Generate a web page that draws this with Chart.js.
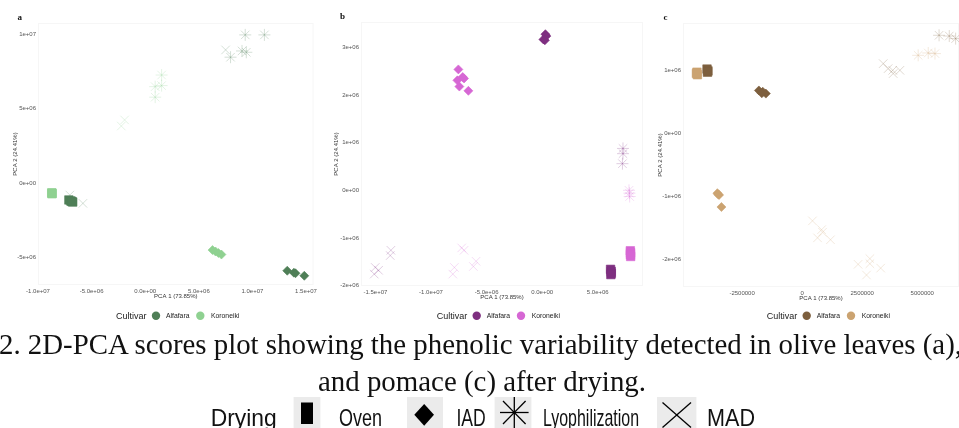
<!DOCTYPE html>
<html>
<head>
<meta charset="utf-8">
<script src="https://cdn.jsdelivr.net/npm/chart.js@4.4.1/dist/chart.umd.min.js"></script>
<style>
  html, body { margin: 0; padding: 0; background: #fff; }
  body { width: 959px; height: 428px; overflow: hidden; position: relative; }
  canvas { position: absolute; top: 0; }
  #overlay { position: absolute; left: 0; top: 0; pointer-events: none; }
</style>
</head>
<body>
<canvas id="pa" width="320" height="301" style="left:0px"></canvas>
<canvas id="pb" width="324" height="302" style="left:322px"></canvas>
<canvas id="pc" width="314" height="303" style="left:645px"></canvas>

<svg id="overlay" width="959" height="428" xmlns="http://www.w3.org/2000/svg">
  <g font-family="'Liberation Serif', serif" font-weight="bold" font-size="9" fill="#111">
    <text x="17.5" y="19.5">a</text>
    <text x="340" y="19">b</text>
    <text x="663.5" y="19.5">c</text>
  </g>
  <g id="cultivarLegends" font-family="'Liberation Sans', Arial, sans-serif" fill="#222"></g>
  <g font-family="'Liberation Serif', 'DejaVu Serif', serif" font-size="29" fill="#111">
    <text x="-1" y="354" textLength="963" lengthAdjust="spacingAndGlyphs">2. 2D-PCA scores plot showing the phenolic variability detected in olive leaves (a),</text>
    <text x="318" y="391" textLength="328" lengthAdjust="spacingAndGlyphs">and pomace (c) after drying.</text>
  </g>
  <g id="dryingLegend" font-family="'Liberation Sans', Arial, sans-serif" font-size="24" fill="#111">
    <text x="210.7" y="425.5" textLength="66" lengthAdjust="spacingAndGlyphs">Drying</text>
    <rect x="293.6" y="397" width="26.8" height="31" fill="#ebebeb"/>
    <rect x="301" y="402.5" width="12" height="21.5" fill="#000"/>
    <text x="339" y="425.5" textLength="43" lengthAdjust="spacingAndGlyphs">Oven</text>
    <rect x="407" y="397" width="36" height="31" fill="#ebebeb"/>
    <polygon points="414.3,414.8 424.2,404 434,414.8 424.2,425.7" fill="#000"/>
    <text x="456.4" y="425.5" textLength="29.3" lengthAdjust="spacingAndGlyphs">IAD</text>
    <rect x="494.6" y="397" width="36.8" height="31" fill="#ebebeb"/>
    <g stroke="#000" stroke-width="1.3">
      <line x1="514.3" y1="397" x2="514.3" y2="428"/>
      <line x1="500" y1="412.5" x2="528.6" y2="412.5"/>
      <line x1="503" y1="401" x2="525.6" y2="424"/>
      <line x1="503" y1="424" x2="525.6" y2="401"/>
    </g>
    <text x="543" y="425.5" textLength="96" lengthAdjust="spacingAndGlyphs">Lyophilization</text>
    <rect x="657" y="397" width="39.4" height="31" fill="#ebebeb"/>
    <g stroke="#000" stroke-width="1.3">
      <line x1="662.5" y1="402.5" x2="691" y2="427.5"/>
      <line x1="662.5" y1="427.5" x2="691" y2="402.5"/>
    </g>
    <text x="707" y="425.5" textLength="48" lengthAdjust="spacingAndGlyphs">MAD</text>
  </g>
</svg>

<script>
// ---------- shared labels ----------
const cultivars = ['Alfafara', 'Koroneiki'];
const dryingMethods = ['Oven', 'IAD', 'Lyophilization', 'MAD'];
const axisTitleX = 'PCA 1 (73.85%)';
const axisTitleY = 'PCA 2 (24.41%)';

// ---------- panel a: olive leaves ----------
const aTicksX = [-1e7, -5e6, 0, 5e6, 1e7, 1.5e7];
const aLabelsX = ['-1.0e+07', '-5.0e+06', '0.0e+00', '5.0e+06', '1.0e+07', '1.5e+07'];
const aTicksY = [-5e6, 0, 5e6, 1e7];
const aLabelsY = ['-5e+06', '0e+00', '5e+06', '1e+07'];
const aAlfafaraOven = [[-7.12e6, -1.14e6], [-6.94e6, -1.21e6], [-6.85e6, -1.24e6], [-6.76e6, -1.28e6]];
const aKoroneikiOven = [[-8.72e6, -0.66e6], [-8.68e6, -0.70e6], [-8.70e6, -0.72e6]];
const aAlfafaraIAD = [[1.325e7, -5.90e6], [1.387e7, -6.03e6], [1.402e7, -6.07e6], [1.484e7, -6.24e6]];
const aKoroneikiIAD = [[6.28e6, -4.51e6], [6.56e6, -4.61e6], [6.83e6, -4.71e6], [7.11e6, -4.81e6]];
const aAlfafaraLyo = [[1.112e7, 9.96e6], [9.33e6, 9.96e6], [9.03e6, 8.88e6], [9.43e6, 8.79e6], [7.96e6, 8.46e6]];
const aKoroneikiLyo = [[1.53e6, 7.26e6], [0.93e6, 6.48e6], [1.53e6, 6.55e6], [0.93e6, 5.77e6]];
const aAlfafaraMAD = [[7.5e6, 8.95e6], [-7.03e6, -0.81e6], [-5.81e6, -1.37e6]];
const aKoroneikiMAD = [[-1.92e6, 4.24e6], [-2.23e6, 3.83e6]];

// ---------- panel b ----------
const bTicksX = [-1.5e7, -1e7, -5e6, 0, 5e6];
const bLabelsX = ['-1.5e+07', '-1.0e+07', '-5.0e+06', '0.0e+00', '5.0e+06'];
const bTicksY = [-2e6, -1e6, 0, 1e6, 2e6, 3e6];
const bLabelsY = ['-2e+06', '-1e+06', '0e+00', '1e+06', '2e+06', '3e+06'];
const bAlfafaraOven = [[6.15e6, -1.66e6], [6.20e6, -1.70e6], [6.22e6, -1.74e6], [6.18e6, -1.77e6]];
const bKoroneikiOven = [[7.93e6, -1.27e6], [7.95e6, -1.31e6], [7.94e6, -1.35e6], [7.96e6, -1.39e6]];
const bAlfafaraIAD = [[2.9e5, 3.28e6], [3.8e5, 3.24e6], [1.1e5, 3.17e6], [2.4e5, 3.15e6]];
const bKoroneikiIAD = [[-7.54e6, 2.54e6], [-7.15e6, 2.38e6], [-7.63e6, 2.31e6], [-7.45e6, 2.18e6], [-6.64e6, 2.09e6], [-7.03e6, 2.35e6]];
const bAlfafaraLyo = [[7.27e6, 8.8e5], [7.27e6, 7.7e5], [7.22e6, 5.6e5]];
const bKoroneikiLyo = [[7.81e6, 0], [7.87e6, -1.3e5], [7.85e6, -6e4]];
const bAlfafaraMAD = [[-1.502e7, -1.62e6], [-1.511e7, -1.76e6], [-1.472e7, -1.68e6], [-1.361e7, -1.26e6], [-1.367e7, -1.37e6]];
const bKoroneikiMAD = [[-7.24e6, -1.21e6], [-7.03e6, -1.26e6], [-7.90e6, -1.62e6], [-8.04e6, -1.76e6], [-5.95e6, -1.49e6], [-6.19e6, -1.60e6]];

// ---------- panel c: pomace ----------
const cTicksX = [-2.5e6, 0, 2.5e6, 5e6];
const cLabelsX = ['-2500000', '0', '2500000', '5000000'];
const cTicksY = [-2e6, -1e6, 0, 1e6];
const cLabelsY = ['-2e+06', '-1e+06', '0e+00', '1e+06'];
const cAlfafaraOven = [[-3.96e6, 1.02e6], [-3.92e6, 0.99e6], [-3.94e6, 0.97e6]];
const cKoroneikiOven = [[-4.38e6, 0.97e6], [-4.36e6, 0.93e6], [-4.40e6, 0.95e6]];
const cAlfafaraIAD = [[-1.80e6, 6.8e5], [-1.64e6, 6.6e5], [-1.51e6, 6.3e5], [-1.68e6, 6.35e5]];
const cKoroneikiIAD = [[-3.53e6, -9.5e5], [-3.46e6, -9.8e5], [-3.36e6, -1.17e6], [-3.49e6, -9.7e5]];
const cAlfafaraLyo = [[5.70e6, 1.556e6], [6.125e6, 1.544e6], [6.39e6, 1.503e6]];
const cKoroneikiLyo = [[4.83e6, 1.238e6], [5.25e6, 1.275e6], [5.53e6, 1.265e6]];
const cAlfafaraMAD = [[3.375e6, 1.106e6], [3.58e6, 1.027e6], [3.79e6, 0.948e6], [4.07e6, 1.0e6], [3.77e6, 1.0e6]];
const cKoroneikiMAD = [[4.3e5, -1.39e6], [8.1e5, -1.53e6], [8.5e5, -1.57e6], [6.4e5, -1.66e6], [1.18e6, -1.69e6],
                       [2.33e6, -2.08e6], [2.82e6, -1.99e6], [2.82e6, -2.07e6], [2.68e6, -2.25e6], [3.27e6, -2.14e6]];

// ---------- drawing ----------
const FONT = "'Liberation Sans', Arial, sans-serif";

const markStyle = {
  Oven:           { pointStyle: 'rect',     radius: 6,   filled: true },
  IAD:            { pointStyle: 'rectRot',  radius: 4.5, filled: true },
  Lyophilization: { pointStyle: 'star',     radius: 6,   filled: false },
  MAD:            { pointStyle: 'crossRot', radius: 6,   filled: false }
};

function rgba(hex, a) {
  const n = parseInt(hex.slice(1), 16);
  return `rgba(${(n >> 16) & 255},${(n >> 8) & 255},${n & 255},${a})`;
}

function dataset(points, cultivar, drying, color) {
  const s = markStyle[drying];
  return {
    label: cultivar + ' ' + drying,
    data: points.map(p => ({ x: p[0], y: p[1] })),
    pointStyle: s.pointStyle,
    pointRadius: s.radius,
    pointHoverRadius: s.radius,
    backgroundColor: s.filled ? color : 'rgba(0,0,0,0)',
    borderColor: s.filled ? color : rgba(color, 0.3),
    borderWidth: s.filled ? 0.6 : 0.8,
    order: s.filled ? 0 : 1
  };
}

const panelBorder = {
  id: 'panelBorder',
  beforeDatasetsDraw(chart) {
    const { ctx, chartArea: a } = chart;
    ctx.save();
    ctx.strokeStyle = '#f6f6f6';
    ctx.lineWidth = 1;
    ctx.strokeRect(a.left + 0.5, a.top + 0.5, a.right - a.left - 1, a.bottom - a.top - 1);
    ctx.restore();
  }
};

function makePanel(id, cfg) {
  const axis = (ticks, labels, min, max, isX) => ({
    type: 'linear',
    min, max,
    afterFit: s => { if (isX) s.height = 16; else s.width = cfg.yWidth; },
    afterBuildTicks: s => { s.ticks = ticks.map(v => ({ value: v })); },
    ticks: {
      autoSkip: false, maxRotation: 0, minRotation: 0,
      padding: isX ? 3 : 2,
      color: '#555',
      font: { family: FONT, size: 6 },
      callback: v => labels[ticks.indexOf(v)]
    },
    grid: { display: false, drawTicks: false },
    border: { display: false },
    title: {
      display: true,
      text: isX ? axisTitleX : axisTitleY,
      color: '#333',
      font: { family: FONT, size: 6 },
      padding: isX ? { top: 0, bottom: 0.7 } : { top: cfg.yTitlePad, bottom: 0 }
    }
  });

  const sets = [];
  cultivars.forEach((cv, i) => {
    dryingMethods.forEach(dm => sets.push(dataset(cfg.series[cv][dm], cv, dm, cfg.colors[i])));
  });

  return new Chart(document.getElementById(id), {
    type: 'scatter',
    data: { datasets: sets },
    options: {
      responsive: false,
      devicePixelRatio: 1,
      animation: false,
      events: [],
      layout: { autoPadding: false, padding: { top: cfg.padTop, right: cfg.padRight, left: 0, bottom: 0 } },
      plugins: { legend: { display: false }, tooltip: { enabled: false } },
      scales: {
        x: axis(cfg.ticksX, cfg.labelsX, cfg.xMin, cfg.xMax, true),
        y: axis(cfg.ticksY, cfg.labelsY, cfg.yMin, cfg.yMax, false)
      }
    },
    plugins: [panelBorder]
  });
}

const colorsA = ['#4f7f57', '#8fd191'];
const colorsB = ['#7e2f80', '#d667d4'];
const colorsC = ['#7d5f3e', '#cba371'];

makePanel('pa', {
  padTop: 23, padRight: 2, yWidth: 38, yTitlePad: 11.4,
  xMin: -1.0e7, xMax: 1.5707e7, yMin: -6.86e6, yMax: 1.076e7,
  ticksX: aTicksX, labelsX: aLabelsX, ticksY: aTicksY, labelsY: aLabelsY,
  colors: colorsA,
  series: {
    Alfafara:  { Oven: aAlfafaraOven, IAD: aAlfafaraIAD, Lyophilization: aAlfafaraLyo, MAD: aAlfafaraMAD },
    Koroneiki: { Oven: aKoroneikiOven, IAD: aKoroneikiIAD, Lyophilization: aKoroneikiLyo, MAD: aKoroneikiMAD }
  }
});

makePanel('pb', {
  padTop: 22, padRight: 3, yWidth: 39, yTitlePad: 11.1,
  xMin: -1.63e7, xMax: 9.07e6, yMin: -2.01e6, yMax: 3.536e6,
  ticksX: bTicksX, labelsX: bLabelsX, ticksY: bTicksY, labelsY: bLabelsY,
  colors: colorsB,
  series: {
    Alfafara:  { Oven: bAlfafaraOven, IAD: bAlfafaraIAD, Lyophilization: bAlfafaraLyo, MAD: bAlfafaraMAD },
    Koroneiki: { Oven: bKoroneikiOven, IAD: bKoroneikiIAD, Lyophilization: bKoroneikiLyo, MAD: bKoroneikiMAD }
  }
});

makePanel('pc', {
  padTop: 23, padRight: 0, yWidth: 38, yTitlePad: 11.4,
  xMin: -4.96e6, xMax: 6.53e6, yMin: -2.44e6, yMax: 1.751e6,
  ticksX: cTicksX, labelsX: cLabelsX, ticksY: cTicksY, labelsY: cLabelsY,
  colors: colorsC,
  series: {
    Alfafara:  { Oven: cAlfafaraOven, IAD: cAlfafaraIAD, Lyophilization: cAlfafaraLyo, MAD: cAlfafaraMAD },
    Koroneiki: { Oven: cKoroneikiOven, IAD: cKoroneikiIAD, Lyophilization: cKoroneikiLyo, MAD: cKoroneikiMAD }
  }
});

// Cultivar legends under each panel
const SVGNS = 'http://www.w3.org/2000/svg';
const legendGroup = document.getElementById('cultivarLegends');
function svgEl(tag, attrs, text) {
  const el = document.createElementNS(SVGNS, tag);
  Object.entries(attrs).forEach(([k, v]) => el.setAttribute(k, v));
  if (text) el.textContent = text;
  legendGroup.appendChild(el);
}
[[116, colorsA], [436.7, colorsB], [766.7, colorsC]].forEach(([x0, cols]) => {
  const y = 318.5;
  svgEl('text', { x: x0, y: y, 'font-size': 9 }, 'Cultivar');
  svgEl('circle', { cx: x0 + 40, cy: 315.7, r: 4.2, fill: cols[0] });
  svgEl('text', { x: x0 + 50, y: y - 0.5, 'font-size': 6.8 }, cultivars[0]);
  svgEl('circle', { cx: x0 + 84.3, cy: 315.7, r: 4.2, fill: cols[1] });
  svgEl('text', { x: x0 + 95, y: y - 0.5, 'font-size': 6.8 }, cultivars[1]);
});
</script>
</body>
</html>
